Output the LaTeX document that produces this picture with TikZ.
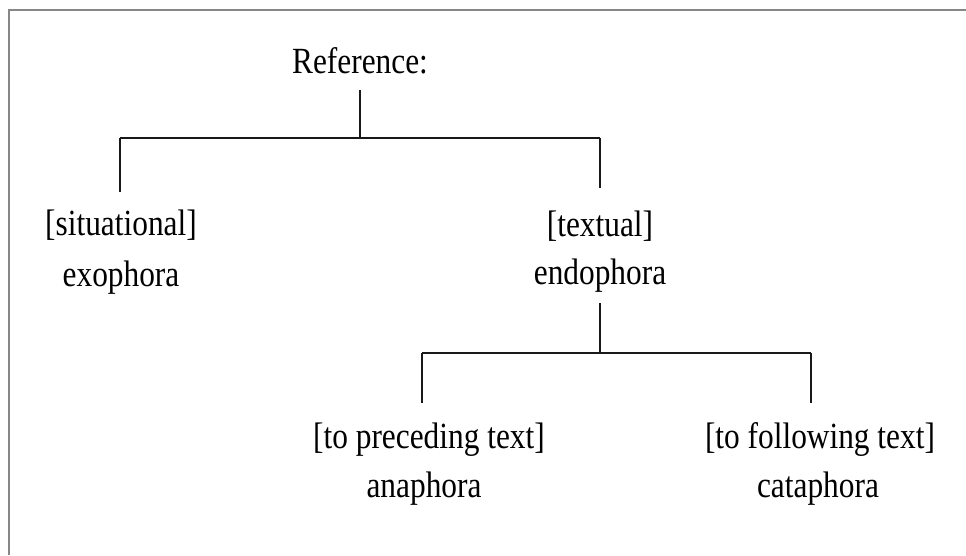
\documentclass[tikz,border=0pt]{standalone}
\usepackage{fontspec}
\setmainfont{Liberation Serif}[FakeStretch=0.85]
\newcommand{\termfont}{\fontsize{21}{28}\selectfont}
\tikzset{
  term/.style={font=\termfont, inner sep=0pt, anchor=base},
  branch/.style={line width=0.9pt, black!90},
  frame/.style={draw=black!47, line width=1.2pt}
}

\begin{document}
\begin{tikzpicture}[x=0.02cm, y=-0.02cm]
  \useasboundingbox (0,0) rectangle (966,555);
  \draw[frame] (9,555) -- (9,10) -- (966,10);

  \node[term] (root) at (360,73) {Reference:};

  \node[term] (sit) at (121,235) {[situational]};
  \node[term] (exo) at (121,286) {exophora};
  \node[term] (txt) at (600,236) {[textual]};
  \node[term] (endo) at (600,284) {endophora};

  \node[term] (pre) at (429,448) {[to preceding text]};
  \node[term] (ana) at (424,497) {anaphora};
  \node[term] (fol) at (820,448) {[to following text]};
  \node[term] (cata) at (818,497) {cataphora};

  \coordinate (top) at (360,138);
  \coordinate (sitJ) at (120,138);
  \coordinate (txtJ) at (600,138);
  \coordinate (mid) at (600,353);
  \coordinate (preJ) at (422,353);
  \coordinate (folJ) at (811,353);

  % first split
  \draw[branch] ([yshift=-0.34cm]root.base) -- (top);
  \draw[branch] (sitJ) -- (txtJ);
  \draw[branch] (sitJ) -- ([yshift=0.86cm]sit.base -| sitJ);
  \draw[branch] (txtJ) -- ([yshift=0.96cm]txt.base -| txtJ);

  % second split
  \draw[branch] ([yshift=-0.38cm]endo.base) -- (mid);
  \draw[branch] (preJ) -- (folJ);
  \draw[branch] (preJ) -- ([yshift=0.9cm]pre.base -| preJ);
  \draw[branch] (folJ) -- ([yshift=0.9cm]fol.base -| folJ);
\end{tikzpicture}
\end{document}
